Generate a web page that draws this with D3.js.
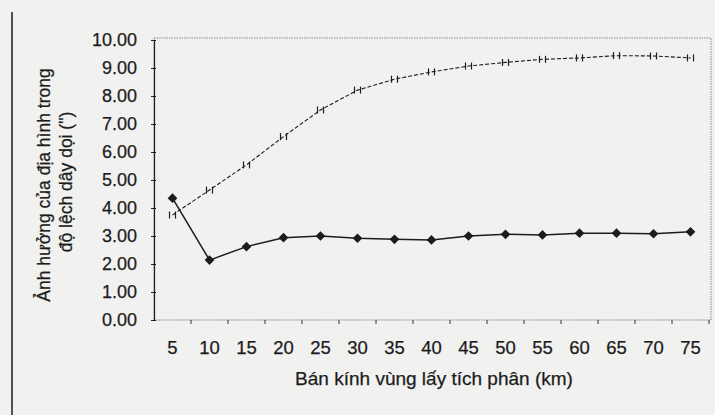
<!DOCTYPE html>
<html>
<head>
<meta charset="utf-8">
<script src="https://cdn.jsdelivr.net/npm/d3@7"></script>
<style>
  body { margin: 0; background: #f1f1f0; }
  svg { display: block; font-family: "Liberation Sans", Arial, sans-serif; }
  svg text { stroke: #1c1c1c; stroke-width: 0.25px; }
</style>
</head>
<body>
<div id="chart"></div>
<script>
// radius of integration area (km)
const radii = [5, 10, 15, 20, 25, 30, 35, 40, 45, 50, 55, 60, 65, 70, 75];
// series (arc seconds)
const seriesDiamond = [4.35, 2.14, 2.62, 2.94, 3.00, 2.92, 2.88, 2.86, 3.00, 3.06, 3.04, 3.10, 3.10, 3.08, 3.15];
const seriesDashed  = [3.75, 4.64, 5.54, 6.55, 7.50, 8.21, 8.60, 8.86, 9.07, 9.20, 9.31, 9.36, 9.44, 9.43, 9.36];
const yTicks = [0, 1, 2, 3, 4, 5, 6, 7, 8, 9, 10];

const yTitle = ['Ảnh hưởng của địa hình trong', 'độ lệch dây dọi  (")'];
const xTitle = 'Bán kính vùng lấy tích phân (km)';

function drawChart(containerId)
{
    const width = 715;
    const height = 415;
    const plot = { left: 154, right: 711, top: 40, bottom: 320 };
    const ink = '#1c1c1c';

    const svg = d3.select(containerId)
        .append('svg')
        .attr('width', width)
        .attr('height', height);

    // page edge line on the left of the scan
    svg.append('line')
        .attr('x1', 12).attr('x2', 12)
        .attr('y1', 12).attr('y2', height)
        .attr('stroke', ink)
        .attr('stroke-width', 1.5);

    // scales
    const xBand = d3.scaleBand()
        .domain(radii)
        .range([plot.left, 709]);

    const xScale = d => xBand(d) + xBand.bandwidth() / 2;

    const yScale = d3.scaleLinear()
        .domain([0, 10])
        .range([plot.bottom, plot.top]);

    // faint dotted plot frame
    svg.append('rect')
        .attr('x', plot.left)
        .attr('y', plot.top - 2)
        .attr('width', plot.right - plot.left)
        .attr('height', plot.bottom - plot.top + 2)
        .attr('fill', 'none')
        .attr('stroke', '#8a8a8a')
        .attr('stroke-width', 1)
        .attr('stroke-dasharray', '1.5,1');

    // y axis
    const yAxis = d3.axisLeft(yScale)
        .tickValues(yTicks)
        .tickFormat(d3.format('.2f'))
        .tickSize(3)
        .tickPadding(14);

    const gy = svg.append('g')
        .attr('transform', `translate(${plot.left}, 0)`)
        .call(yAxis);
    gy.select('.domain').attr('stroke', ink).attr('stroke-width', 1.2);
    gy.selectAll('.tick line').attr('stroke', ink).attr('x2', -3).attr('x1', 2);
    gy.selectAll('.tick text')
        .attr('fill', ink)
        .style('font-size', '18px');

    // x axis: ticks sit on band edges, labels in band centres
    const gx = svg.append('g')
        .attr('transform', `translate(0, ${plot.bottom})`);

    gx.selectAll('line.xt')
        .data(radii.slice(1).concat(['end']))
        .enter()
        .append('line')
        .attr('class', 'xt')
        .attr('x1', d => d === 'end' ? 709 : xBand(d))
        .attr('x2', d => d === 'end' ? 709 : xBand(d))
        .attr('y1', 0)
        .attr('y2', 4)
        .attr('stroke', '#333')
        .attr('stroke-width', 1);

    gx.selectAll('text')
        .data(radii)
        .enter()
        .append('text')
        .attr('x', d => xScale(d))
        .attr('y', 34)
        .attr('text-anchor', 'middle')
        .attr('fill', ink)
        .style('font-size', '18.5px')
        .text(d => d);

    // dashed series
    const line2 = d3.line()
        .x((d, i) => xScale(radii[i]))
        .y(d => yScale(d));

    svg.append('path')
        .datum(seriesDashed)
        .attr('d', line2)
        .attr('fill', 'none')
        .attr('stroke', ink)
        .attr('stroke-width', 1.1)
        .attr('stroke-dasharray', '4,2');

    // double-bar markers
    const marks = svg.selectAll('g.mk')
        .data(seriesDashed)
        .enter()
        .append('g')
        .attr('class', 'mk')
        .attr('transform', (d, i) => `translate(${xScale(radii[i])}, ${yScale(d)})`);

    marks.selectAll('line')
        .data([-3, 3])
        .enter()
        .append('line')
        .attr('x1', d => d).attr('x2', d => d)
        .attr('y1', -3.5).attr('y2', 3.5)
        .attr('stroke', ink)
        .attr('stroke-width', 1.2);

    // solid series with diamonds
    const line1 = d3.line()
        .x((d, i) => xScale(radii[i]))
        .y(d => yScale(d));

    svg.append('path')
        .datum(seriesDiamond)
        .attr('d', line1)
        .attr('fill', 'none')
        .attr('stroke', ink)
        .attr('stroke-width', 1.5);

    svg.selectAll('path.dm')
        .data(seriesDiamond)
        .enter()
        .append('path')
        .attr('class', 'dm')
        .attr('d', d3.symbol().type(d3.symbolDiamond2).size(60))
        .attr('transform', (d, i) => `translate(${xScale(radii[i])}, ${yScale(d)})`)
        .attr('fill', ink);

    // axis titles
    svg.append('text')
        .attr('x', 434)
        .attr('y', 385)
        .attr('text-anchor', 'middle')
        .attr('fill', ink)
        .style('font-size', '19px')
        .text(xTitle);

    svg.selectAll('text.yt')
        .data(yTitle)
        .enter()
        .append('text')
        .attr('class', 'yt')
        .attr('transform', (d, i) => `translate(${i === 0 ? 50 : 72}, ${i === 0 ? 185 : 182}) rotate(-90)`)
        .attr('text-anchor', 'middle')
        .attr('fill', ink)
        .style('font-size', '17.5px')
        .text(d => d);
}

drawChart('#chart');
</script>
</body>
</html>
